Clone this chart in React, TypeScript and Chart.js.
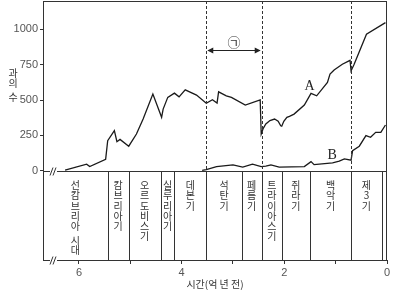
import React, { useEffect, useRef } from "react";
import { Chart, registerables } from "chart.js";

Chart.register(...registerables);

// Time in millions of years ago (axis shows 억 년 = 100 Myr)
const aTime = [627, 585, 579, 548, 544, 531, 526, 520, 503, 488, 475, 456, 439, 436, 427, 414, 405, 393, 371, 352, 340, 331, 328, 313, 303, 276, 247, 245, 241, 236, 228, 219, 212, 207, 205, 201, 195, 190, 181, 161, 148, 137, 116, 111, 103, 87, 72, 70, 64, 40, 3];
const aFamilies = [5, 47, 30, 82, 213, 284, 206, 222, 174, 260, 366, 542, 378, 436, 519, 549, 523, 572, 535, 477, 502, 479, 558, 530, 519, 465, 502, 260, 300, 331, 355, 366, 350, 318, 315, 350, 378, 385, 401, 465, 547, 530, 624, 683, 713, 753, 781, 706, 753, 965, 1047];

const bTime = [360, 352, 332, 300, 281, 262, 245, 236, 226, 210, 161, 148, 142, 106, 93, 83, 70, 67, 54, 41, 32, 22, 12, 3];
const bFamilies = [3, 9, 30, 42, 26, 47, 30, 33, 42, 26, 30, 65, 44, 56, 68, 84, 75, 143, 174, 249, 237, 272, 272, 324];

const yTicks = [0, 250, 500, 750, 1000];
const periodNames = ["선캄브리아 시대", "캄브리아기", "오르도비스기", "실루리아기", "데본기", "석탄기", "페름기", "트라이아스기", "쥐라기", "백악기", "제3기"];
const periodStart = [670, 544, 503, 441, 414, 352, 283, 244, 205, 150, 70];
const periodEnd = [544, 503, 441, 414, 352, 283, 244, 205, 150, 70, 10];
const dashedAt = [352, 244, 70];
const spanMark = [352, 244];
const spanLabel = "㉠";
const seriesLabels = ["A", "B"];
const seriesLabelPos = [[151, 594], [107, 113]];

const X_MAX = 670;
const Y_MIN = -630;
const Y_MAX = 1200;

const toPoints = (xs: number[], ys: number[]) => xs.map((x, i) => ({ x, y: ys[i] }));

const overlay = {
  id: "overlay",
  afterDraw(chart: any) {
    const { ctx, chartArea } = chart;
    const xs = chart.scales.x;
    const ys = chart.scales.y;
    const L = chartArea.left, R = chartArea.right, T = chartArea.top, B = chartArea.bottom;
    const y0 = Math.round(ys.getPixelForValue(0)) + 0.5;
    ctx.save();
    ctx.strokeStyle = "#333";
    ctx.lineWidth = 1;
    // top and right border
    ctx.beginPath();
    ctx.moveTo(L, Math.round(T) + 0.5);
    ctx.lineTo(R, Math.round(T) + 0.5);
    ctx.moveTo(Math.round(R) - 0.5, T);
    ctx.lineTo(Math.round(R) - 0.5, B);
    ctx.stroke();
    // zero line
    ctx.beginPath();
    ctx.moveTo(L, y0);
    ctx.lineTo(R, y0);
    ctx.stroke();
    // period boundaries in lower panel
    ctx.beginPath();
    periodEnd.forEach((t) => {
      const px = Math.round(xs.getPixelForValue(t)) + 0.5;
      ctx.moveTo(px, y0);
      ctx.lineTo(px, B);
    });
    ctx.stroke();
    // dashed lines
    ctx.setLineDash([3, 2]);
    ctx.beginPath();
    dashedAt.forEach((t) => {
      const px = Math.round(xs.getPixelForValue(t)) + 0.5;
      ctx.moveTo(px, T);
      ctx.lineTo(px, y0);
    });
    ctx.stroke();
    ctx.setLineDash([]);
    // period names, vertical
    ctx.fillStyle = "#333";
    ctx.font = '10px "Noto Sans CJK KR"';
    ctx.textAlign = "center";
    ctx.textBaseline = "middle";
    periodNames.forEach((name, i) => {
      const cx = (xs.getPixelForValue(periodStart[i]) + xs.getPixelForValue(periodEnd[i])) / 2;
      let y = y0 + 14;
      Array.from(name).forEach((ch) => {
        if (ch === " ") { y += 4; return; }
        ctx.fillText(ch, cx, y);
        y += 10.2;
      });
    });
    // axis break marks
    const brk = (x: number, y: number) => {
      ctx.fillStyle = "#fff";
      ctx.fillRect(x - 3, y - 2, 7, 4);
      ctx.strokeStyle = "#333";
      ctx.beginPath();
      ctx.moveTo(x - 3, y + 4); ctx.lineTo(x, y - 4);
      ctx.moveTo(x, y + 4); ctx.lineTo(x + 3, y - 4);
      ctx.stroke();
    };
    brk(L + 10, y0);
    brk(L + 10, Math.round(B) + 0.5);
    // span arrow
    const ax1 = xs.getPixelForValue(spanMark[0]) + 1;
    const ax2 = xs.getPixelForValue(spanMark[1]) - 1;
    const ay = Math.round(ys.getPixelForValue(855)) + 0.5;
    ctx.strokeStyle = "#222";
    ctx.fillStyle = "#222";
    ctx.lineWidth = 1.2;
    ctx.beginPath();
    ctx.moveTo(ax1 + 4, ay); ctx.lineTo(ax2 - 4, ay);
    ctx.stroke();
    ctx.beginPath();
    ctx.moveTo(ax1, ay); ctx.lineTo(ax1 + 6, ay - 3); ctx.lineTo(ax1 + 6, ay + 3); ctx.closePath();
    ctx.moveTo(ax2, ay); ctx.lineTo(ax2 - 6, ay - 3); ctx.lineTo(ax2 - 6, ay + 3); ctx.closePath();
    ctx.fill();
    ctx.font = '13px "Noto Sans CJK KR"';
    ctx.fillStyle = "#333";
    ctx.fillText(spanLabel, (ax1 + ax2) / 2, ys.getPixelForValue(912));
    // series labels
    ctx.font = '14px "Liberation Serif"';
    ctx.fillStyle = "#222";
    seriesLabels.forEach((lab, i) => {
      ctx.fillText(lab, xs.getPixelForValue(seriesLabelPos[i][0]), ys.getPixelForValue(seriesLabelPos[i][1]));
    });
    // y title
    ctx.font = '10px "Noto Sans CJK KR"';
    ctx.fillStyle = "#333";
    ["과", "의", "수"].forEach((ch, i) => ctx.fillText(ch, 13, 73 + i * 10.5 + (i === 2 ? 3 : 0)));
    // x title
    ctx.fillText("시간(억 년 전)", (L + R) / 2, 284);
    ctx.restore();
  },
};

export default function App() {
  const ref = useRef<HTMLCanvasElement | null>(null);
  useEffect(() => {
    if (!ref.current) return;
    const chart = new Chart(ref.current, {
      type: "line",
      data: {
        datasets: [
          { label: "A", data: toPoints(aTime, aFamilies), borderColor: "#1a1a1a", borderWidth: 1.3, pointRadius: 0, tension: 0, fill: false },
          { label: "B", data: toPoints(bTime, bFamilies), borderColor: "#1a1a1a", borderWidth: 1.3, pointRadius: 0, tension: 0, fill: false },
        ],
      },
      options: {
        animation: false,
        responsive: false,
        devicePixelRatio: 1,
        layout: { padding: { top: 1, right: 11, left: 0, bottom: 0 } },
        plugins: { legend: { display: false }, tooltip: { enabled: false } },
        scales: {
          x: {
            type: "linear",
            reverse: true,
            min: 0,
            max: X_MAX,
            border: { color: "#333", width: 1 },
            grid: { drawOnChartArea: false, drawTicks: true, tickLength: 4, color: "#333" },
            ticks: {
              stepSize: 100,
              includeBounds: false,
              autoSkip: false,
              maxRotation: 0,
              padding: 2,
              color: "#555",
              font: { family: "Liberation Sans", size: 11 },
              callback: (v: any) => (Number(v) % 200 === 0 ? String(Number(v) / 100) : ""),
            },
            afterFit: (s: any) => { s.height = 32; s.paddingLeft = 0; s.paddingRight = 0; },
          },
          y: {
            type: "linear",
            min: Y_MIN,
            max: Y_MAX,
            border: { color: "#333", width: 1 },
            grid: { drawOnChartArea: false, drawTicks: true, tickLength: 3, color: "#333" },
            ticks: { color: "#555", padding: 2, font: { family: "Liberation Sans", size: 11 }, callback: (v: any) => String(v) },
            afterBuildTicks: (s: any) => { s.ticks = yTicks.map((v) => ({ value: v })); },
            afterFit: (s: any) => { s.width = 43; s.paddingTop = 0; s.paddingBottom = 0; },
          },
        },
      },
      plugins: [overlay],
    });
    return () => chart.destroy();
  }, []);
  return (
    <div style={{ position: "fixed", left: 0, top: 0, width: 398, height: 292, background: "#fff" }}>
      <canvas ref={ref} width={398} height={292} style={{ width: 398, height: 292 }} />
    </div>
  );
}
